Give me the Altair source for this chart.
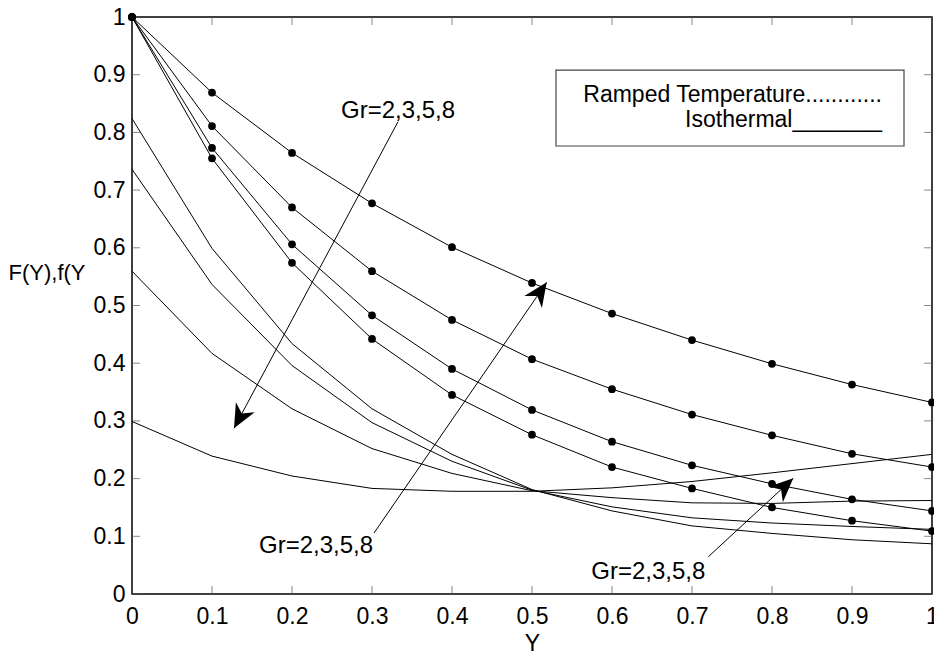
import math
import altair as alt
import pandas as pd

# ---------------- data ----------------
Y_GRID = [0.0, 0.1, 0.2, 0.3, 0.4, 0.5, 0.6, 0.7, 0.8, 0.9, 1.0]

# Ramped temperature (curves with dots)
ramped_gr2 = [1.0, 0.755, 0.574, 0.442, 0.345, 0.276, 0.220, 0.183, 0.150, 0.127, 0.109]
ramped_gr3 = [1.0, 0.773, 0.606, 0.483, 0.390, 0.319, 0.264, 0.223, 0.191, 0.164, 0.144]
ramped_gr5 = [1.0, 0.811, 0.670, 0.5595, 0.475, 0.407, 0.355, 0.311, 0.275, 0.243, 0.220]
ramped_gr8 = [1.0, 0.869, 0.7645, 0.677, 0.601, 0.539, 0.486, 0.440, 0.399, 0.363, 0.332]

# Isothermal (plain curves)
iso_gr2 = [0.824, 0.599, 0.434, 0.321, 0.242, 0.181, 0.144, 0.118, 0.105, 0.094, 0.087]
iso_gr3 = [0.736, 0.5365, 0.396, 0.297, 0.230, 0.180, 0.151, 0.132, 0.123, 0.117, 0.112]
iso_gr5 = [0.5595, 0.417, 0.321, 0.252, 0.209, 0.179, 0.167, 0.158, 0.157, 0.161, 0.162]
iso_gr8 = [0.299, 0.239, 0.2045, 0.183, 0.178, 0.178, 0.184, 0.195, 0.210, 0.226, 0.242]

TICKS = [0, 0.1, 0.2, 0.3, 0.4, 0.5, 0.6, 0.7, 0.8, 0.9, 1]

# annotations (data coordinates)
ann_labels = ["Gr=2,3,5,8", "Gr=2,3,5,8", "Gr=2,3,5,8"]
ann_x = [0.3325, 0.23, 0.6454]
ann_y = [0.825, 0.071, 0.0255]

arrow_x0 = [0.3325, 0.3025, 0.7204]
arrow_y0 = [0.8185, 0.1057, 0.0646]
arrow_x1 = [0.1275, 0.5184, 0.8266]
arrow_y1 = [0.2872, 0.5402, 0.2005]

legend_box_x = [0.53]
legend_box_x2 = [0.965]
legend_box_y = [0.9081]
legend_box_y2 = [0.7764]
legend_lines = ["Ramped Temperature............", "Isothermal_______"]
legend_x = [0.9375, 0.9375]
legend_y = [0.8527, 0.8094]

# ---------------- layout ----------------
W, H = 800, 577
FONT = "Liberation Sans"
FS = 23
FS_TXT = 24

rows = []
for name, vals in [("R2", ramped_gr2), ("R3", ramped_gr3), ("R5", ramped_gr5), ("R8", ramped_gr8)]:
    for xv, v in zip(Y_GRID, vals):
        rows.append({"Y": xv, "F": v, "curve": name, "kind": "ramped"})
for name, vals in [("I2", iso_gr2), ("I3", iso_gr3), ("I5", iso_gr5), ("I8", iso_gr8)]:
    for xv, v in zip(Y_GRID, vals):
        rows.append({"Y": xv, "F": v, "curve": name, "kind": "iso"})
df = pd.DataFrame(rows)
df_ramped = df[df["kind"] == "ramped"]

angles = []
for x0, y0, x1, y1 in zip(arrow_x0, arrow_y0, arrow_x1, arrow_y1):
    dx = (x1 - x0) * W
    dy = -(y1 - y0) * H
    angles.append(math.degrees(math.atan2(dx, -dy)) % 360)
df_arrows = pd.DataFrame({"x0": arrow_x0, "y0": arrow_y0, "x1": arrow_x1, "y1": arrow_y1, "angle": angles})
df_ann = pd.DataFrame({"x": ann_x, "y": ann_y, "label": ann_labels})
df_box = pd.DataFrame({"x": legend_box_x, "x2": legend_box_x2, "y": legend_box_y, "y2": legend_box_y2})
df_leg = pd.DataFrame({"x": legend_x, "y": legend_y, "label": legend_lines})
df_ticks = pd.DataFrame({"t": TICKS, "lo": [0] * len(TICKS), "hi": [1] * len(TICKS)})

xs = alt.Scale(domain=[0, 1], nice=False, zero=False)
ys = alt.Scale(domain=[0, 1], nice=False, zero=False)

XAXIS = alt.Axis(values=TICKS, format="~g", ticks=False, tickSize=0, domain=False, grid=False,
                 labelFont=FONT, labelFontSize=FS, labelColor="black", labelPadding=11,
                 labelFlush=False, labelOverlap=False,
                 titleFont=FONT, titleFontSize=FS, titleFontWeight="normal", titleColor="black",
                 titleY=56, titleBaseline="alphabetic")
YAXIS = alt.Axis(values=TICKS, format="~g", ticks=False, tickSize=0, domain=False, grid=False,
                 labelFont=FONT, labelFontSize=FS, labelColor="black", labelPadding=7,
                 labelFlush=False, labelOverlap=False,
                 titleFont=FONT, titleFontSize=22, titleFontWeight="normal", titleColor="black",
                 titleAngle=0, titleX=-124, titleY=255, titleAlign="left", titleBaseline="middle")


def X(field):
    return alt.X(field, type="quantitative", scale=xs, axis=XAXIS, title="Y")


def Y(field):
    return alt.Y(field, type="quantitative", scale=ys, axis=YAXIS, title="F(Y),f(Y")


lines = alt.Chart(df).mark_line(color="black", strokeWidth=1).encode(
    x=X("Y"), y=Y("F"), detail="curve:N", order="Y:Q")
dots = alt.Chart(df_ramped).mark_circle(color="black", size=60, opacity=1).encode(
    x=X("Y"), y=Y("F"))

tick_style = dict(thickness=1, size=16, color="#555", clip=True)
t_bottom = alt.Chart(df_ticks).mark_tick(orient="vertical", **tick_style).encode(x=X("t"), y=Y("lo"))
t_top = alt.Chart(df_ticks).mark_tick(orient="vertical", **tick_style).encode(x=X("t"), y=Y("hi"))
t_left = alt.Chart(df_ticks).mark_tick(orient="horizontal", **tick_style).encode(x=X("lo"), y=Y("t"))
t_right = alt.Chart(df_ticks).mark_tick(orient="horizontal", **tick_style).encode(x=X("hi"), y=Y("t"))

arrow_lines = alt.Chart(df_arrows).mark_rule(color="black", strokeWidth=1).encode(
    x=X("x0"), y=Y("y0"), x2="x1:Q", y2="y1:Q")
HEAD = "M0,0 L0.8,1.8 L0,1.25 L-0.8,1.8 Z"
arrow_heads = alt.Chart(df_arrows).mark_point(shape=HEAD, filled=True, size=708, color="black",
                                              opacity=1, strokeWidth=0).encode(
    x=X("x1"), y=Y("y1"), angle=alt.Angle("angle:Q", scale=None))

ann = alt.Chart(df_ann).mark_text(font=FONT, fontSize=FS_TXT, align="center", baseline="alphabetic",
                                  color="black").encode(x=X("x"), y=Y("y"), text="label:N")

box = alt.Chart(df_box).mark_rect(fill="white", stroke="#444", strokeWidth=1.2).encode(
    x=X("x"), x2="x2:Q", y=Y("y"), y2="y2:Q")
leg = alt.Chart(df_leg).mark_text(font=FONT, fontSize=23, align="right", baseline="alphabetic",
                                  color="black").encode(x=X("x"), y=Y("y"), text="label:N")

chart = alt.layer(
    t_bottom, t_top, t_left, t_right, lines, dots, arrow_lines, arrow_heads, ann, box, leg
).properties(
    width=W, height=H,
    autosize=alt.AutoSizeParams(type="none"),
    padding={"left": 132, "top": 17, "right": 2, "bottom": 60},
    background="white",
).configure_view(stroke="black", strokeWidth=1.5)

chart.save("out.html", embed_options={"renderer": "svg", "actions": False})
